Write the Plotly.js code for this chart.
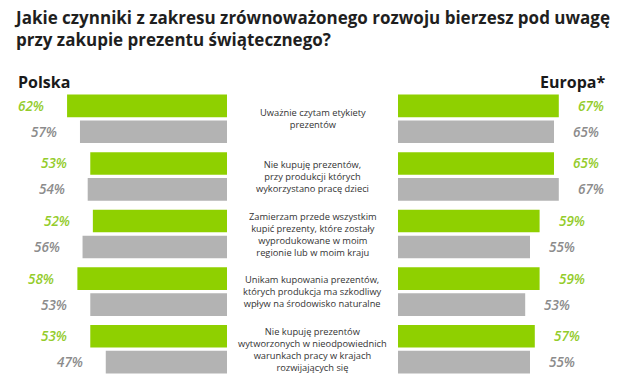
<!DOCTYPE html>
<html>
<head>
<meta charset="utf-8">
<script src="https://cdn.plot.ly/plotly-3.0.1.min.js"></script>
<style>html,body{margin:0;padding:0;background:#fff;}#chart{width:620px;height:376px;}</style>
</head>
<body>
<div id="chart"></div>
<script>
// Data
const categories = [
  "Uważnie czytam etykiety<br>prezentów",
  "Nie kupuję prezentów,<br>przy produkcji których<br>wykorzystano pracę dzieci",
  "Zamierzam przede wszystkim<br>kupić prezenty, które zostały<br>wyprodukowane w moim<br>regionie lub w moim kraju",
  "Unikam kupowania prezentów,<br>których produkcja ma szkodliwy<br>wpływ na środowisko naturalne",
  "Nie kupuję prezentów<br>wytworzonych w nieodpowiednich<br>warunkach pracy w krajach<br>rozwijających się"
];
const polskaGreen = [62, 53, 52, 58, 53];
const polskaGray  = [57, 54, 56, 53, 47];
const europaGreen = [67, 65, 59, 59, 57];
const europaGray  = [65, 67, 55, 53, 55];

const titleText = "Jakie czynniki z zakresu zrównoważonego rozwoju bierzesz pod uwagę<br>przy zakupie prezentu świątecznego?";
const leftHeader = "Polska";
const rightHeader = "Europa*";

const GREEN = "#8fd000", GRAY = "#b3b3b3";
const GREEN_T = "#94cc2c", GRAY_T = "#8c8c8c";
const FONT = "Open Sans";

const idx = categories.map((c, i) => i);

function barTrace(vals, color, xa, name) {
  return {
    type: "bar", orientation: "h", x: vals, y: idx, xaxis: xa, yaxis: "y",
    marker: {color: color}, name: name, showlegend: false, hoverinfo: "x"
  };
}

const traces = [
  barTrace(polskaGreen, GREEN, "x", "Polska A"),
  barTrace(polskaGray, GRAY, "x", "Polska B"),
  barTrace(europaGreen, GREEN, "x2", "Europa A"),
  barTrace(europaGray, GRAY, "x2", "Europa B")
];

const annotations = [];
const off = 13;
function pctAnn(vals, xref, color, dy, left) {
  vals.forEach((v, i) => {
    annotations.push({
      xref: xref, yref: "y", x: v, y: i, text: v + "%", showarrow: false,
      xanchor: left ? "right" : "left", yanchor: "middle",
      xshift: left ? -21 : 17, yshift: dy,
      font: {family: FONT, size: 13.5, color: color, style: "italic", weight: 600}
    });
  });
}
pctAnn(polskaGreen, "x", GREEN_T, off, true);
pctAnn(polskaGray, "x", GRAY_T, -off, true);
pctAnn(europaGreen, "x2", GREEN_T, off, false);
pctAnn(europaGray, "x2", GRAY_T, -off, false);

categories.forEach((c, i) => {
  annotations.push({
    xref: "paper", yref: "y", x: 312.5 / 620, y: i, text: c, showarrow: false,
    xanchor: "center", yanchor: "middle", align: "center",
    font: {family: FONT, size: 9.3, color: "#333333"}
  });
});

annotations.push({
  xref: "paper", yref: "paper", x: 16 / 620, y: 1, yshift: 8.5, xanchor: "left", yanchor: "middle",
  text: "<b>" + leftHeader + "</b>", showarrow: false,
  font: {family: FONT, size: 16, color: "#1a1a1a"}
});
annotations.push({
  xref: "paper", yref: "paper", x: 607 / 620, y: 1, yshift: 8.5, xanchor: "right", yanchor: "middle",
  text: "<b>" + rightHeader + "</b>", showarrow: false,
  font: {family: FONT, size: 16, color: "#1a1a1a"}
});
annotations.push({
  xref: "paper", yref: "paper", x: 12 / 620, y: 1, yshift: 86, xanchor: "left", yanchor: "top",
  align: "left", text: "<b>" + titleText + "</b>", showarrow: false,
  font: {family: FONT, size: 17, color: "#1f1f1f"}
});

const layout = {
  width: 620, height: 376,
  margin: {l: 0, r: 0, t: 89.5, b: 0, pad: 0},
  paper_bgcolor: "#ffffff", plot_bgcolor: "#ffffff",
  barmode: "group", bargap: 0.1, bargroupgap: 0.127,
  xaxis: {domain: [0, 227 / 620], range: [88, 0], visible: false, fixedrange: true},
  xaxis2: {domain: [398 / 620, 1], range: [0, 92.5], visible: false, fixedrange: true, anchor: "y"},
  yaxis: {range: [4.465, -0.5], visible: false, fixedrange: true},
  annotations: annotations,
  showlegend: false
};

Plotly.newPlot("chart", traces, layout, {displayModeBar: false, staticPlot: true});
</script>
</body>
</html>
